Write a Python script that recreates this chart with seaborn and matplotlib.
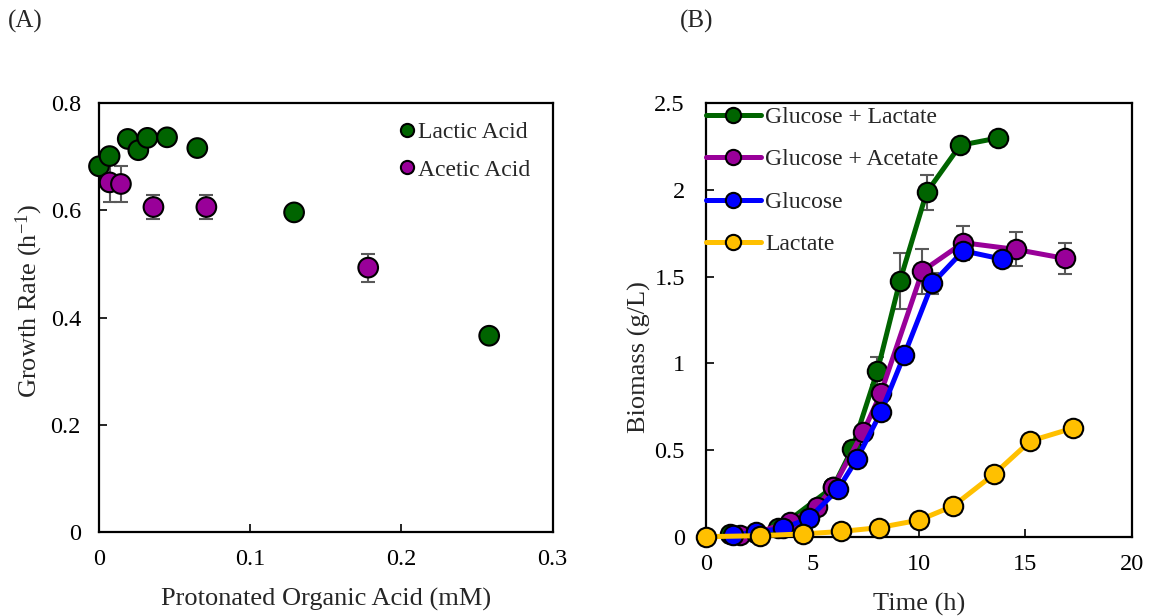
import numpy as np
import pandas as pd
import matplotlib
matplotlib.use("Agg")
import matplotlib.pyplot as plt
from matplotlib.lines import Line2D
from matplotlib.ticker import FuncFormatter
import seaborn as sns

# ---- Panel A: growth rate vs protonated organic acid ----
lactic_x = [0.000, 0.007, 0.019, 0.026, 0.032, 0.045, 0.065, 0.129, 0.258]
lactic_y = [0.682, 0.701, 0.733, 0.712, 0.735, 0.736, 0.716, 0.596, 0.366]
acetic_x = [0.007, 0.0145, 0.036, 0.071, 0.178]
acetic_y = [0.652, 0.649, 0.606, 0.606, 0.493]
acetic_err = [0.037, 0.034, 0.022, 0.022, 0.026]

# ---- Panel B: biomass time courses ----
gl_t = [1.14, 3.41, 5.99, 6.87, 8.06, 9.12, 10.37, 11.95, 13.73]
gl_b = [0.016, 0.048, 0.288, 0.505, 0.956, 1.476, 1.986, 2.258, 2.300]
gl_err = [0.005, 0.010, 0.020, 0.040, 0.080, 0.163, 0.100, 0.020, 0.020]

ga_t = [1.61, 2.35, 3.96, 5.21, 5.99, 7.40, 8.22, 10.17, 12.09, 14.57, 16.87]
ga_b = [0.010, 0.020, 0.087, 0.173, 0.285, 0.606, 0.827, 1.532, 1.696, 1.657, 1.605]
ga_err = [0.003, 0.005, 0.005, 0.010, 0.020, 0.030, 0.040, 0.130, 0.098, 0.098, 0.090]

g_t = [1.30, 2.35, 3.61, 4.85, 6.21, 7.09, 8.24, 9.32, 10.64, 12.09, 13.92]
g_b = [0.010, 0.027, 0.048, 0.106, 0.273, 0.446, 0.721, 1.048, 1.461, 1.649, 1.601]
g_err = [0.003, 0.005, 0.005, 0.010, 0.010, 0.020, 0.030, 0.030, 0.060, 0.030, 0.030]

l_t = [0.00, 2.55, 4.58, 6.34, 8.12, 10.03, 11.62, 13.55, 15.24, 17.26]
l_b = [0.000, 0.006, 0.016, 0.030, 0.052, 0.096, 0.177, 0.362, 0.552, 0.627]

acid_names = ["Lactic Acid", "Acetic Acid"]
series_names = ["Glucose + Lactate", "Glucose + Acetate", "Glucose", "Lactate"]

GREEN = "#006400"
PURPLE = "#990099"
BLUE = "#0000FF"
YELLOW = "#FFC000"
ERR = "#595959"

sns.set_theme(style="white")
plt.rcParams["font.family"] = ["Liberation Serif", "DejaVu Serif"]
plt.rcParams["mathtext.default"] = "regular"
TICK_FS = 17.5
LABEL_FS = 19
LEG_FS = 17

fig = plt.figure(figsize=(11.53, 6.16), dpi=100)
W, H = 1153, 616


def axes_px(left, top, right, bottom):
    return fig.add_axes([left / W, 1 - bottom / H, (right - left) / W, (bottom - top) / H])


axA = axes_px(99, 103, 552.7, 532)
axB = axes_px(705.7, 103.3, 1131.7, 536.7)

for ax in (axA, axB):
    for s in ax.spines.values():
        s.set_color("black")
        s.set_linewidth(1.6)
    ax.tick_params(direction="in", length=6, width=1.2, colors="black",
                   labelsize=TICK_FS, left=True, bottom=True)

fmt = FuncFormatter(lambda v, p: f"{v:g}")

# Panel A
dfA = pd.DataFrame({
    "acid": [acid_names[0]] * len(lactic_x) + [acid_names[1]] * len(acetic_x),
    "x": lactic_x + acetic_x,
    "y": lactic_y + acetic_y,
})
axA.errorbar(acetic_x, acetic_y, yerr=acetic_err, fmt="none", ecolor=ERR,
             elinewidth=1.5, capsize=5, capthick=1.5, zorder=1)
sns.scatterplot(data=dfA, x="x", y="y", hue="acid", hue_order=acid_names,
                palette=[GREEN, PURPLE], s=200, edgecolor="black", linewidth=1.5,
                legend=False, ax=axA, zorder=3, clip_on=False)
axA.set_xlim(0, 0.3)
axA.set_ylim(0, 0.8)
axA.set_xticks([0, 0.1, 0.2, 0.3])
axA.set_yticks([0, 0.2, 0.4, 0.6, 0.8])
axA.xaxis.set_major_formatter(fmt)
axA.yaxis.set_major_formatter(fmt)
axA.tick_params(axis="x", pad=12.5)
axA.tick_params(axis="y", pad=13)
axA.set_xlabel("Protonated Organic Acid (mM)", fontsize=LABEL_FS)
axA.set_ylabel(r"Growth Rate (h$^{-1}$)", fontsize=LABEL_FS)
axA.xaxis.set_label_coords(0.5, -0.131)
axA.yaxis.set_label_coords(-0.118, 0.538)

hA = [Line2D([], [], ls="none", marker="o", markersize=9.5, markerfacecolor=c,
             markeredgecolor="black", markeredgewidth=1.5) for c in (GREEN, PURPLE)]
axA.legend(hA, acid_names, loc="upper left", bbox_to_anchor=(0.6645, 0.956),
           frameon=False, fontsize=LEG_FS, handlelength=0.55, handletextpad=0.19,
           borderpad=0, borderaxespad=0, labelspacing=0.67)

# Panel B
dfB = pd.DataFrame({
    "series": ([series_names[0]] * len(gl_t) + [series_names[1]] * len(ga_t)
               + [series_names[2]] * len(g_t) + [series_names[3]] * len(l_t)),
    "t": gl_t + ga_t + g_t + l_t,
    "biomass": gl_b + ga_b + g_b + l_b,
})
colors = [GREEN, PURPLE, BLUE, YELLOW]
for t, b, e in ((gl_t, gl_b, gl_err), (ga_t, ga_b, ga_err), (g_t, g_b, g_err)):
    axB.errorbar(t, b, yerr=e, fmt="none", ecolor=ERR, elinewidth=1.5,
                 capsize=5, capthick=1.5, zorder=1)
for name, c in zip(series_names, colors):
    sns.lineplot(data=dfB[dfB["series"] == name], x="t", y="biomass", color=c,
                 linewidth=3.6, marker="o", markersize=14, markerfacecolor=c,
                 markeredgecolor="black", markeredgewidth=1.5, legend=False,
                 ax=axB, zorder=3, clip_on=False)
axB.set_xlim(0, 20)
axB.set_ylim(0, 2.5)
axB.set_xticks([0, 5, 10, 15, 20])
axB.set_yticks([0, 0.5, 1, 1.5, 2, 2.5])
axB.xaxis.set_major_formatter(fmt)
axB.yaxis.set_major_formatter(fmt)
axB.tick_params(axis="x", pad=12.5)
axB.tick_params(axis="y", pad=15)
axB.set_xlabel("Time (h)", fontsize=LABEL_FS)
axB.set_ylabel("Biomass (g/L)", fontsize=LABEL_FS)
axB.xaxis.set_label_coords(0.5, -0.130)
axB.yaxis.set_label_coords(-0.128, 0.415)

hB = [Line2D([], [], color=c, linewidth=3.6, marker="o", markersize=11,
             markerfacecolor=c, markeredgecolor="black", markeredgewidth=1.5)
      for c in colors]
axB.legend(hB, series_names, loc="upper left", bbox_to_anchor=(0, 0.993),
           frameon=False, fontsize=LEG_FS, handlelength=2.33, handletextpad=0.18,
           borderpad=0, borderaxespad=0, labelspacing=0.89)

fig.text(8 / W, 1 - 21 / H, "(A)", fontsize=18, va="center", ha="left")
fig.text(680 / W, 1 - 21 / H, "(B)", fontsize=18, va="center", ha="left")

fig.savefig("out.png", dpi=100, facecolor="white")
